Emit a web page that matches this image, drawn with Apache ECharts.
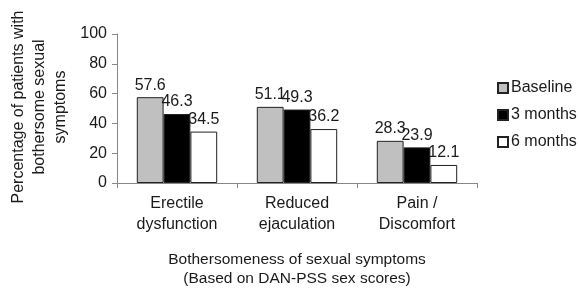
<!DOCTYPE html>
<html>
<head>
<meta charset="utf-8">
<script src="https://cdn.jsdelivr.net/npm/echarts@6/dist/echarts.min.js"></script>
<style>
  html, body { margin: 0; padding: 0; background: #fff; }
  #chart { width: 579px; height: 289px; }
</style>
</head>
<body>
<div id="chart"></div>
<script>
// Chart data
const categories = ['Erectile\ndysfunction', 'Reduced\nejaculation', 'Pain /\nDiscomfort'];
const baseline = [57.6, 51.1, 28.3];
const threeMonths = [46.3, 49.3, 23.9];
const sixMonths = [34.5, 36.2, 12.1];
const seriesNames = ['Baseline', '3 months', '6 months'];

const chart = echarts.init(document.getElementById('chart'));
const font = 'Liberation Sans, Arial, sans-serif';
const textColor = '#1a1a1a';

function makeSeries(name, data, color) {
    return {
        name: name,
        type: 'bar',
        data: data,
        barGap: '0%',
        barCategoryGap: '33%',
        itemStyle: { color: color, borderColor: '#222', borderWidth: 1 },
        label: {
            show: true,
            position: 'top',
            distance: 4,
            color: textColor,
            fontFamily: font,
            fontSize: 16,
            formatter: function(p) { return p.value.toFixed(1); }
        }
    };
}

const option = {
    animation: false,
    backgroundColor: '#fff',
    grid: { left: 117, right: 102, top: 34, bottom: 106, outerBoundsMode: 'none' },
    // y axis title drawn as rotated text so each line stays centred
    graphic: [{
        type: 'text',
        x: 40,
        y: 107,
        rotation: Math.PI / 2,
        style: {
            text: 'Percentage of patients with\nbothersome sexual\nsymptoms',
            fill: textColor,
            fontFamily: font,
            fontSize: 16,
            lineHeight: 21,
            align: 'center',
            verticalAlign: 'middle'
        }
    }],
    legend: {
        orient: 'vertical',
        left: 492,
        top: 75,
        itemWidth: 10,
        itemHeight: 10,
        itemGap: 11,
        icon: 'rect',
        textStyle: { color: textColor, fontFamily: font, fontSize: 16, padding: [0, 0, 0, -2] },
        data: seriesNames
    },
    xAxis: {
        type: 'category',
        data: categories,
        name: 'Bothersomeness of sexual symptoms\n(Based on DAN-PSS sex scores)',
        nameLocation: 'middle',
        nameGap: 67,
        nameTextStyle: { color: textColor, fontFamily: font, fontSize: 15.5, lineHeight: 19, verticalAlign: 'top' },
        axisLine: { lineStyle: { color: '#888' } },
        axisTick: { show: true, length: 5, lineStyle: { color: '#888' } },
        axisLabel: { color: textColor, fontFamily: font, fontSize: 16, lineHeight: 21, margin: 10 }
    },
    yAxis: {
        type: 'value',
        min: 0,
        max: 100,
        interval: 20,
        axisLine: { show: true, lineStyle: { color: '#888' } },
        axisTick: { show: true, length: 5, lineStyle: { color: '#888' } },
        splitLine: { show: false },
        axisLabel: { color: textColor, fontFamily: font, fontSize: 16, margin: 10 }
    },
    series: [
        makeSeries(seriesNames[0], baseline, '#c0c0c0'),
        makeSeries(seriesNames[1], threeMonths, '#000000'),
        makeSeries(seriesNames[2], sixMonths, '#ffffff')
    ]
};
chart.setOption(option);
</script>
</body>
</html>
